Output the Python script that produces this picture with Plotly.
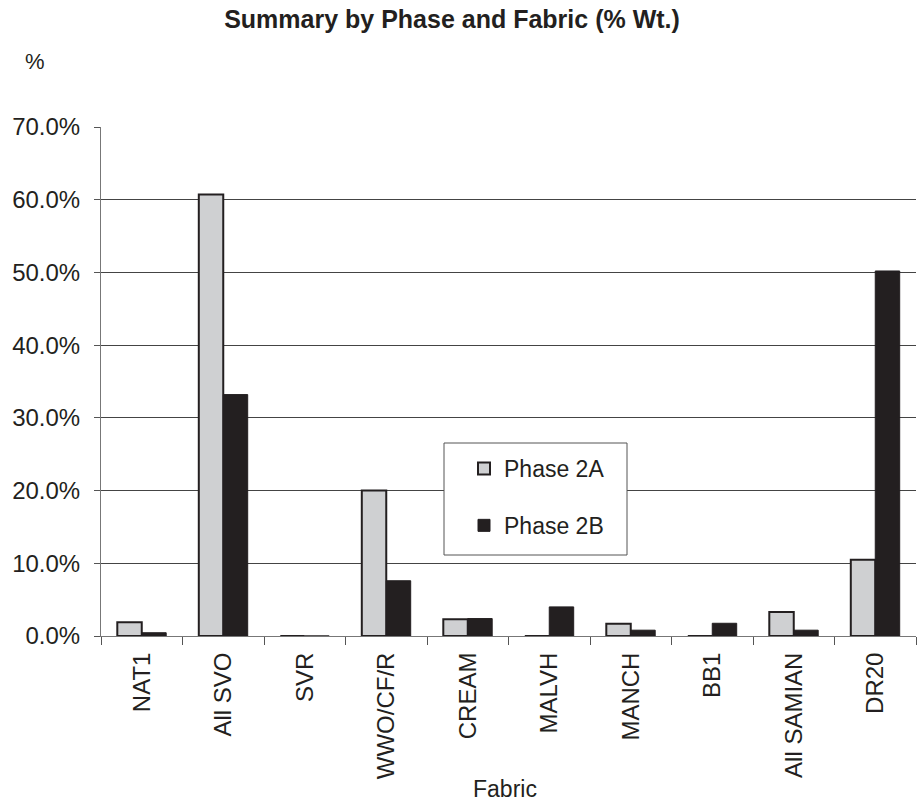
import plotly.graph_objects as go

categories = ["NAT1", "All SVO", "SVR", "WWO/CF/R", "CREAM", "MALVH", "MANCH", "BB1", "All SAMIAN", "DR20"]
phase_2a = [1.9, 60.7, 0.0, 20.0, 2.3, 0.0, 1.7, 0.0, 3.3, 10.5]
phase_2b = [0.45, 33.2, 0.0, 7.6, 2.4, 4.0, 0.8, 1.75, 0.8, 50.2]
y_ticks = [0, 10, 20, 30, 40, 50, 60, 70]

W, H = 917, 801
L, R, T, B = 101, 1, 127, 165
pw, ph = W - L - R, H - T - B

def px_x(x):
    return (x - L) / pw

def px_y(y):
    return (H - B - y) / ph

FONT = "Liberation Sans, Arial, sans-serif"
INK = "#231f20"

fig = go.Figure()
fig.add_trace(go.Bar(
    name="Phase 2A", x=categories, y=phase_2a,
    marker=dict(color="#cfd0d2", line=dict(color=INK, width=2)),
    legendgroup="a",
))
fig.add_trace(go.Bar(
    name="Phase 2B", x=categories, y=phase_2b,
    marker=dict(color=INK, line=dict(color=INK, width=1)),
    legendgroup="b",
))

fig.update_layout(
    width=W, height=H,
    margin=dict(l=L, r=R, t=T, b=B, autoexpand=False),
    paper_bgcolor="white", plot_bgcolor="white",
    barmode="group", bargap=0.4, bargroupgap=0.0,
    font=dict(family=FONT, color=INK),
    title=dict(text="<b>Summary by Phase and Fabric (% Wt.)</b>",
               x=452 / W, xanchor="center", y=1 - 19 / H, yanchor="middle",
               font=dict(size=25, family=FONT, color=INK)),
    showlegend=True,
    legend=dict(x=px_x(464), y=px_y(447), xanchor="left", yanchor="top",
                bgcolor="rgba(0,0,0,0)", borderwidth=0,
                font=dict(size=23, family=FONT, color=INK),
                tracegroupgap=24),
    xaxis=dict(
        type="category", tickangle=-90, tickson="boundaries",
        ticks="outside", ticklen=8, tickcolor="#555",
        showline=True, linecolor="#777", linewidth=1,
        showgrid=False,
        tickfont=dict(size=24, family=FONT, color=INK),
        ticklabelstandoff=6,
        range=[-0.5, len(categories) - 0.5],
    ),
    yaxis=dict(
        range=[0, 70], tickvals=y_ticks,
        ticktext=[f"{v:.1f}%" for v in y_ticks],
        ticks="outside", ticklen=6, tickcolor="#555",
        showline=True, linecolor="#777", linewidth=1,
        showgrid=True, gridcolor="#444", gridwidth=1,
        zeroline=False,
        tickfont=dict(size=24, family=FONT, color=INK),
        ticklabelstandoff=9,
    ),
    shapes=[dict(type="rect", xref="paper", yref="paper",
                 x0=px_x(444), x1=px_x(627), y0=px_y(555), y1=px_y(443),
                 line=dict(color="#555", width=1), fillcolor="white", layer="above")],
    annotations=[
        dict(text="%", xref="paper", yref="paper", x=px_x(35), y=px_y(61),
             xanchor="center", yanchor="middle",
             showarrow=False, font=dict(size=22, family=FONT, color=INK)),
        dict(text="Fabric", xref="paper", yref="paper", x=px_x(505), y=px_y(789),
             xanchor="center", yanchor="middle",
             showarrow=False, font=dict(size=23, family=FONT, color=INK)),
    ],
)

fig.write_html("out.html", config={"displayModeBar": False},
               post_script="document.body.style.margin='0';")
